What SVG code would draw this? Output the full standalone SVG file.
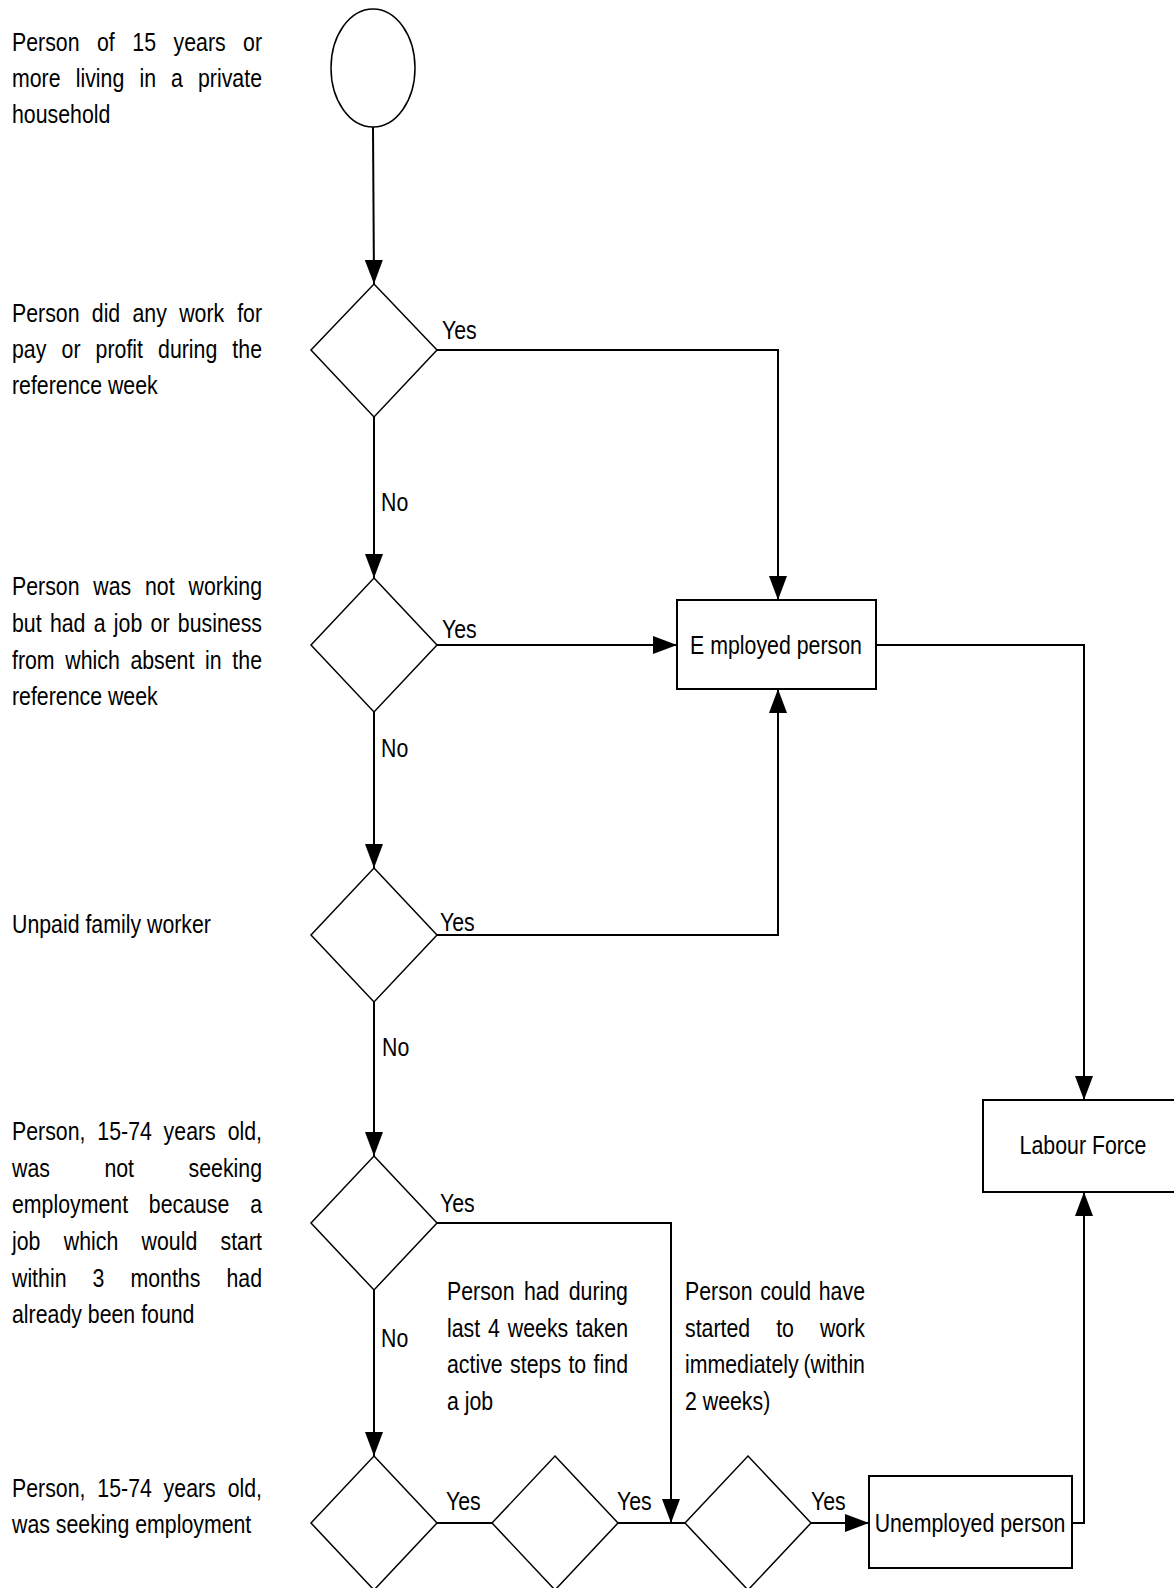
<svg xmlns="http://www.w3.org/2000/svg" width="1174" height="1588" viewBox="0 0 1174 1588">
<style>
.t{font-family:"Liberation Sans",Arial,sans-serif;font-size:26px;fill:#000}
.m{text-anchor:middle}
.e{text-anchor:end}
.shape{fill:#fff;stroke:#000;stroke-width:1.5}
.box{fill:#fff;stroke:#000;stroke-width:2}
.conn{fill:none;stroke:#000;stroke-width:2}
</style>
<defs>
<marker id="arr" markerWidth="24" markerHeight="18" refX="24" refY="9" orient="auto" markerUnits="userSpaceOnUse">
<path d="M0,0 L24,9 L0,18 z" fill="#000"/>
</marker>
</defs>
<rect width="1174" height="1588" fill="#fff"/>

<g id="connectors">
<path class="conn" d="M373,127 L374,284" marker-end="url(#arr)"/>
<path class="conn" d="M437,350 H778 V600" marker-end="url(#arr)"/>
<path class="conn" d="M374,417 V578" marker-end="url(#arr)"/>
<path class="conn" d="M437,645 H677" marker-end="url(#arr)"/>
<path class="conn" d="M374,712 V868" marker-end="url(#arr)"/>
<path class="conn" d="M437,935 H778 V689" marker-end="url(#arr)"/>
<path class="conn" d="M374,1002 V1156" marker-end="url(#arr)"/>
<path class="conn" d="M437,1223 H671 V1523" marker-end="url(#arr)"/>
<path class="conn" d="M374,1290 V1456" marker-end="url(#arr)"/>
<path class="conn" d="M437,1523 H492"/>
<path class="conn" d="M618,1523 H685"/>
<path class="conn" d="M811,1523 H869" marker-end="url(#arr)"/>
<path class="conn" d="M1072,1523 H1084 V1192" marker-end="url(#arr)"/>
<path class="conn" d="M876,645 H1084 V1100" marker-end="url(#arr)"/>
<g transform="scale(0.82 1)">
<text class="t" x="539.02" y="339">Yes</text>
<text class="t" x="539.02" y="638">Yes</text>
<text class="t" x="536.59" y="931">Yes</text>
<text class="t" x="536.59" y="1212">Yes</text>
<text class="t" x="543.90" y="1510">Yes</text>
<text class="t" x="752.44" y="1510">Yes</text>
<text class="t" x="989.02" y="1510">Yes</text>
<text class="t" x="464.63" y="511">No</text>
<text class="t" x="464.63" y="757">No</text>
<text class="t" x="465.85" y="1056">No</text>
<text class="t" x="464.63" y="1347">No</text>
</g>
</g>

<g id="start">
<ellipse class="shape" cx="373" cy="68" rx="42" ry="59"/>
</g>
<g id="d1"><polygon class="shape" points="374,284 437,350 374,417 311,350"/></g>
<g id="d2"><polygon class="shape" points="374,578 437,645 374,712 311,645"/></g>
<g id="d3"><polygon class="shape" points="374,868 437,935 374,1002 311,935"/></g>
<g id="d4"><polygon class="shape" points="374,1156 437,1223 374,1290 311,1223"/></g>
<g id="d5"><polygon class="shape" points="374,1456 437,1523 374,1590 311,1523"/></g>
<g id="d6"><polygon class="shape" points="555,1456 618,1523 555,1590 492,1523"/></g>
<g id="d7"><polygon class="shape" points="748,1456 811,1523 748,1590 685,1523"/></g>

<g id="employed">
<rect class="box" x="677" y="600" width="199" height="89"/>
<text class="t m" transform="scale(0.82 1)" x="946.34" y="654">E mployed person</text>
</g>
<g id="labour">
<rect class="box" x="983" y="1100" width="202" height="92"/>
<text class="t m" transform="scale(0.82 1)" x="1320.73" y="1154">Labour Force</text>
</g>
<g id="unemployed">
<rect class="box" x="869" y="1476" width="203" height="92"/>
<text class="t m" transform="scale(0.82 1)" x="1182.93" y="1532">Unemployed person</text>
</g>

<g id="descriptions" transform="scale(0.82 1)">
<text class="t" y="51"><tspan x="14.63">Person</tspan><tspan class="m" x="129.15">of</tspan><tspan class="m" x="175.85">15</tspan><tspan class="m" x="243.41">years</tspan><tspan class="e" x="319.51">or</tspan></text>
<text class="t" y="87"><tspan x="14.63">more</tspan><tspan class="m" x="121.95">living</tspan><tspan class="m" x="180.12">in</tspan><tspan class="m" x="215.85">a</tspan><tspan class="e" x="319.51">private</tspan></text>
<text class="t" x="14.63" y="123">household</text>

<text class="t" y="322"><tspan x="14.63">Person</tspan><tspan class="m" x="129.27">did</tspan><tspan class="m" x="182.56">any</tspan><tspan class="m" x="245.98">work</tspan><tspan class="e" x="319.51">for</tspan></text>
<text class="t" y="358"><tspan x="14.63">pay</tspan><tspan class="m" x="86.59">or</tspan><tspan class="m" x="145.49">profit</tspan><tspan class="m" x="228.90">during</tspan><tspan class="e" x="319.51">the</tspan></text>
<text class="t" x="14.63" y="394">reference week</text>

<text class="t" y="595"><tspan x="14.63">Person</tspan><tspan class="m" x="136.95">was</tspan><tspan class="m" x="194.88">not</tspan><tspan class="e" x="319.51">working</tspan></text>
<text class="t" y="632"><tspan x="14.63">but</tspan><tspan class="m" x="82.56">had</tspan><tspan class="m" x="121.59">a</tspan><tspan class="m" x="156.22">job</tspan><tspan class="m" x="195.24">or</tspan><tspan class="e" x="319.51">business</tspan></text>
<text class="t" y="669"><tspan x="14.63">from</tspan><tspan class="m" x="112.80">which</tspan><tspan class="m" x="198.05">absent</tspan><tspan class="m" x="260.24">in</tspan><tspan class="e" x="319.51">the</tspan></text>
<text class="t" x="14.63" y="705">reference week</text>

<text class="t" x="14.63" y="933">Unpaid family worker</text>

<text class="t" y="1140"><tspan x="14.63">Person,</tspan><tspan class="m" x="151.95">15-74</tspan><tspan class="m" x="231.34">years</tspan><tspan class="e" x="319.51">old,</tspan></text>
<text class="t" y="1177"><tspan x="14.63">was</tspan><tspan class="m" x="145.37">not</tspan><tspan class="e" x="319.51">seeking</tspan></text>
<text class="t" y="1213"><tspan x="14.63">employment</tspan><tspan class="m" x="230.61">because</tspan><tspan class="e" x="319.51">a</tspan></text>
<text class="t" y="1250"><tspan x="14.63">job</tspan><tspan class="m" x="110.98">which</tspan><tspan class="m" x="206.59">would</tspan><tspan class="e" x="319.51">start</tspan></text>
<text class="t" y="1287"><tspan x="14.63">within</tspan><tspan class="m" x="120.12">3</tspan><tspan class="m" x="201.71">months</tspan><tspan class="e" x="319.51">had</tspan></text>
<text class="t" x="14.63" y="1323">already been found</text>

<text class="t" y="1497"><tspan x="14.63">Person,</tspan><tspan class="m" x="151.95">15-74</tspan><tspan class="m" x="231.34">years</tspan><tspan class="e" x="319.51">old,</tspan></text>
<text class="t" x="14.63" y="1533">was seeking employment</text>

<text class="t" y="1300"><tspan x="545.12">Person</tspan><tspan class="m" x="660.61">had</tspan><tspan class="e" x="765.85">during</tspan></text>
<text class="t" y="1337"><tspan x="545.12">last</tspan><tspan class="m" x="602.44">4</tspan><tspan class="m" x="656.10">weeks</tspan><tspan class="e" x="765.85">taken</tspan></text>
<text class="t" y="1373"><tspan x="545.12">active</tspan><tspan class="m" x="653.17">steps</tspan><tspan class="m" x="704.02">to</tspan><tspan class="e" x="765.85">find</tspan></text>
<text class="t" x="545.12" y="1410">a job</text>

<text class="t" y="1300"><tspan x="835.37">Person</tspan><tspan class="m" x="958.17">could</tspan><tspan class="e" x="1054.88">have</tspan></text>
<text class="t" y="1337"><tspan x="835.37">started</tspan><tspan class="m" x="957.44">to</tspan><tspan class="e" x="1054.88">work</tspan></text>
<text class="t" y="1373"><tspan x="835.37">immediately</tspan><tspan class="e" x="1054.88">(within</tspan></text>
<text class="t" x="835.37" y="1410">2 weeks)</text>
</g>
</svg>
